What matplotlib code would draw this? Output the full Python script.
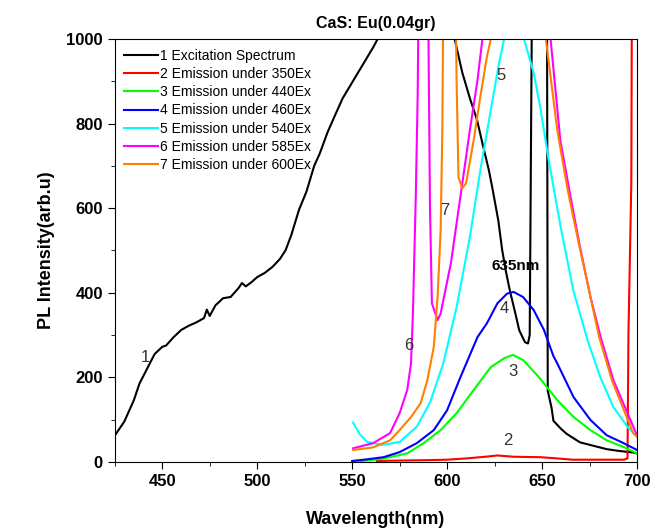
import matplotlib
matplotlib.use("Agg")
import matplotlib.pyplot as plt
from matplotlib.ticker import MultipleLocator

plt.rcParams['font.family'] = ['Liberation Sans', 'DejaVu Sans']

# 1 excitation spectrum (black)
exc_x = [425, 430, 435, 438, 442, 446, 450, 452, 456, 460, 464, 468, 470, 472,
         473.5, 475, 478, 482, 486, 490, 492, 494, 497, 500, 504, 508, 512, 515,
         518, 522, 526, 528, 530, 533, 537, 541, 545, 549, 553, 557, 561, 564,
         575, 590, 603, 604, 608, 612, 615.7, 619, 622, 624, 627, 629, 631, 633,
         636, 638, 641, 642.6, 643.5, 644.7, 648, 652.6, 653, 655, 656, 660, 663,
         670, 677, 684, 690, 698, 700]
exc_y = [62, 95, 145, 185, 220, 255, 272, 275, 295, 312, 322, 330, 335, 340,
         360, 345, 370, 387, 390, 410, 423, 415, 425, 437, 447, 461, 480, 501,
         537, 596, 640, 670, 700, 730, 779, 820, 860, 890, 920, 950, 980, 1005,
         1100, 1100, 1010, 1000, 921, 860, 810, 746, 690, 644, 570, 501, 450, 406,
         350, 311, 283, 280, 300, 1100, 1300, 1100, 168, 128, 97, 78, 66,
         46, 38, 30, 26, 22, 20]

# 2 emission under 350Ex (red)
r_x = [563, 575, 590, 600, 610, 620, 626.5, 635, 649, 658, 666, 680, 693, 695,
       695.5, 697, 697.3, 700]
r_y = [2, 3, 4, 5, 8, 12, 15, 12, 11, 8, 5, 5, 5, 8, 304, 659, 1100, 1100]

# 3 emission under 440Ex (green)
g_x = [550, 558, 566.6, 579, 587.6, 596.6, 605, 614, 623, 630, 634.6, 640, 649,
       658, 666.6, 675.5, 684, 693, 700]
g_y = [0, 3, 8, 20, 44, 75, 115, 170, 224, 245, 253, 241, 197, 146, 106, 75,
       51, 35, 20]

# 4 emission under 460Ex (blue)
b_x = [550, 558, 566.6, 575, 584, 593, 600, 607, 616, 621, 626.5, 631.6, 635,
       640, 645.6, 651, 656, 658, 666.6, 675.5, 684, 693, 700]
b_y = [2, 6, 11, 23, 44, 75, 122, 200, 295, 328, 375, 398, 402, 390, 359, 312,
       250, 233, 153, 99, 63, 44, 28]

# 5 emission under 540Ex (cyan)
c_x = [550.5, 554, 558, 566, 575, 584, 591, 598, 605, 612, 617.5, 623, 627, 630,
       635, 640.5, 645.6, 649, 653.4, 659.6, 666.5, 674, 680.6, 687.5, 695, 700]
c_y = [93, 65, 47, 40, 47, 83, 140, 233, 366, 532, 690, 832, 935, 1000,
       1150, 1000, 920, 840, 716, 560, 405, 287, 201, 130, 83, 59]

# 6 emission under 585Ex (magenta)
m_x = [550.5, 561, 570, 575, 579, 581, 582, 583.5, 584.5, 585, 587, 590, 591,
       592, 595, 596.6, 602, 607, 612, 616, 618.6, 630, 645, 654.5, 659.6, 665,
       670, 675.5, 680.8, 687.6, 695, 700]
m_y = [32, 44, 68, 115, 170, 233, 351, 626, 864, 1100, 1300, 1100, 600,
       375, 335, 351, 470, 627, 785, 903, 1000, 1300, 1300, 1000, 761, 627,
       508, 390, 296, 193, 115, 63]

# 7 emission under 600Ex (orange)
o_x = [550.5, 561, 570, 575, 581, 586, 589.6, 593, 595, 596.6, 597.5, 598, 601,
       604.5, 605, 606, 608, 610, 614, 617.5, 621, 623, 635, 652, 658, 663.5,
       668.6, 675.5, 680, 687, 698, 700]
o_y = [28, 34, 51, 75, 106, 138, 193, 272, 390, 548, 785, 1100, 1300,
       1100, 900, 673, 647, 659, 761, 864, 959, 1000, 1300, 1000, 785, 643,
       532, 390, 296, 190, 68, 60]

series = [
    (exc_x, exc_y, 'black', '1 Excitation Spectrum'),
    (r_x, r_y, '#ff0000', '2 Emission under 350Ex'),
    (g_x, g_y, '#00ff00', '3 Emission under 440Ex'),
    (b_x, b_y, '#0000ff', '4 Emission under 460Ex'),
    (c_x, c_y, '#00ffff', '5 Emission under 540Ex'),
    (m_x, m_y, '#ff00ff', '6 Emission under 585Ex'),
    (o_x, o_y, '#ff8000', '7 Emission under 600Ex'),
]

# curve numbers placed next to the curves
curve_tags = ['1', '2', '3', '4', '5', '6', '7']
tag_x = [441, 632, 634.6, 630, 628.5, 580, 599]
tag_y = [247, 50, 213, 363, 915, 276, 595]

fig = plt.figure(figsize=(6.52, 5.29), dpi=100)
ax = fig.add_axes([0.176, 0.127, 0.801, 0.799])

for xs, ys, col, lab in series:
    ax.plot(xs, ys, color=col, lw=1.5, label=lab)

for t, tx, ty in zip(curve_tags, tag_x, tag_y):
    ax.text(tx, ty, t, fontsize=12, color='#333333', ha='center', va='center')

ax.text(636, 463, '635nm', fontsize=11, fontweight='bold', ha='center', va='center')

ax.set_xlim(425, 700)
ax.set_ylim(0, 1000)
ax.xaxis.set_major_locator(MultipleLocator(50))
ax.xaxis.set_minor_locator(MultipleLocator(25))
ax.yaxis.set_major_locator(MultipleLocator(200))
ax.yaxis.set_minor_locator(MultipleLocator(100))
ax.tick_params(which='both', direction='out', top=False, right=False)
ax.tick_params(which='major', length=5, labelsize=12)
ax.tick_params(which='minor', length=3)
for lbl in ax.get_xticklabels() + ax.get_yticklabels():
    lbl.set_fontweight('bold')

ax.set_xlabel('Wavelength(nm)', fontsize=13, fontweight='bold', labelpad=16)
ax.set_ylabel('PL Intensity(arb.u)', fontsize=13, fontweight='bold', labelpad=8)
ax.set_title('CaS: Eu(0.04gr)', fontsize=11.5, fontweight='bold', pad=8)

ax.legend(loc='upper left', bbox_to_anchor=(0.0, 1.0), frameon=False,
          fontsize=10, handlelength=2.4, handletextpad=0.15,
          labelspacing=0.3, borderaxespad=0.3)

fig.savefig('out.png', dpi=100)
